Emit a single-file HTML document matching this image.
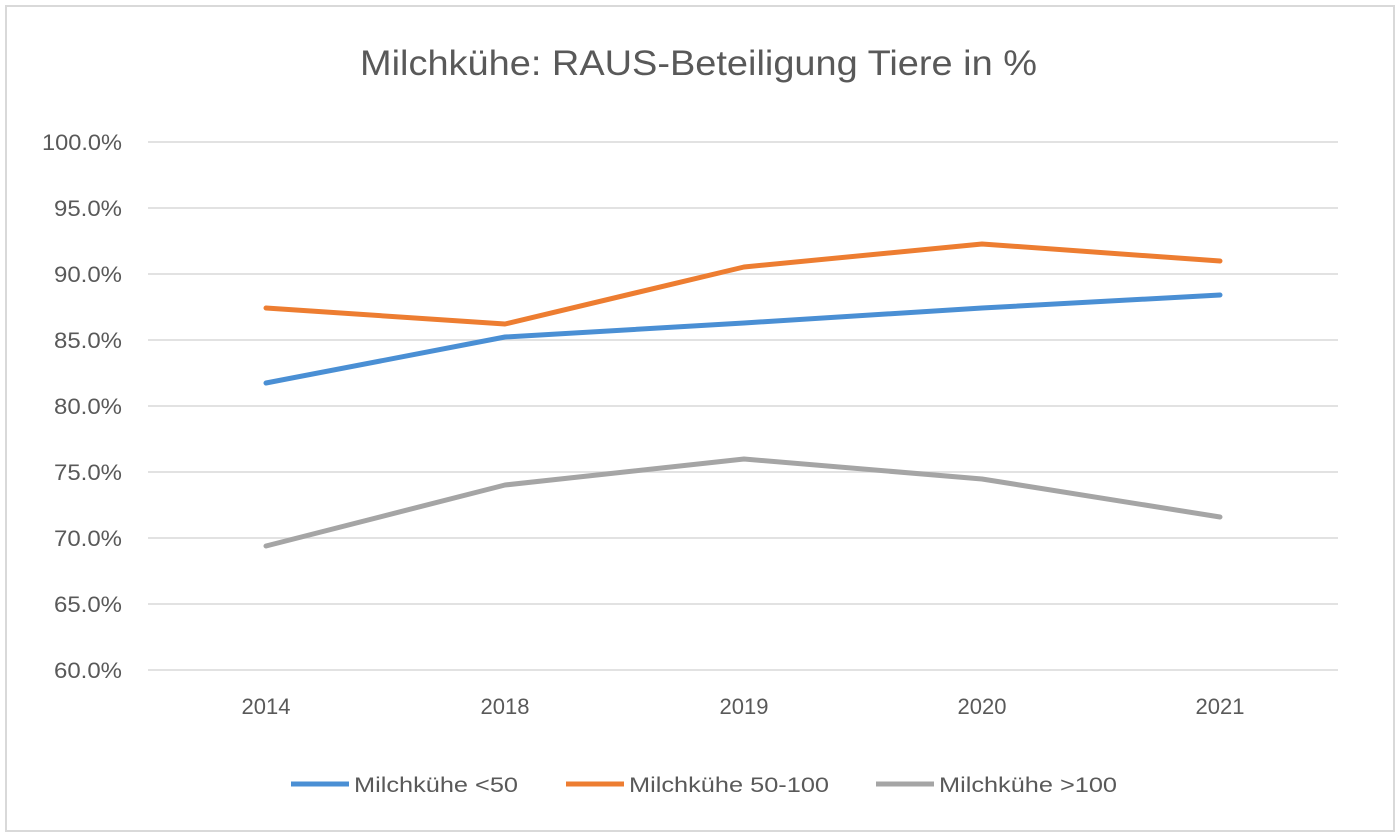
<!DOCTYPE html>
<html><head><meta charset="utf-8"><style>
html,body{margin:0;padding:0;background:#fff;}
svg{display:block;font-family:"Liberation Sans",sans-serif;}
</style></head><body>
<svg width="1400" height="839" viewBox="0 0 1400 839">
<rect x="0" y="0" width="1400" height="839" fill="#fff"/>
<rect x="6" y="6" width="1388" height="825" fill="none" stroke="#d9d9d9" stroke-width="2"/>
<text x="360" y="75" font-size="35" fill="#595959" textLength="677" lengthAdjust="spacingAndGlyphs">Milchkühe: RAUS-Beteiligung Tiere in %</text>
<g stroke="#d9d9d9" stroke-width="1.5">
<line x1="148" x2="1338" y1="142" y2="142"/><line x1="148" x2="1338" y1="208" y2="208"/>
<line x1="148" x2="1338" y1="274" y2="274"/><line x1="148" x2="1338" y1="340" y2="340"/>
<line x1="148" x2="1338" y1="406" y2="406"/><line x1="148" x2="1338" y1="472" y2="472"/>
<line x1="148" x2="1338" y1="538" y2="538"/><line x1="148" x2="1338" y1="604" y2="604"/>
<line x1="148" x2="1338" y1="670" y2="670"/>
</g>
<g font-size="22" fill="#595959">
<text x="42" y="150" textLength="80" lengthAdjust="spacingAndGlyphs">100.0%</text>
<text x="54" y="216" textLength="68" lengthAdjust="spacingAndGlyphs">95.0%</text>
<text x="54" y="282" textLength="68" lengthAdjust="spacingAndGlyphs">90.0%</text>
<text x="54" y="348" textLength="68" lengthAdjust="spacingAndGlyphs">85.0%</text>
<text x="54" y="414" textLength="68" lengthAdjust="spacingAndGlyphs">80.0%</text>
<text x="54" y="480" textLength="68" lengthAdjust="spacingAndGlyphs">75.0%</text>
<text x="54" y="546" textLength="68" lengthAdjust="spacingAndGlyphs">70.0%</text>
<text x="54" y="612" textLength="68" lengthAdjust="spacingAndGlyphs">65.0%</text>
<text x="54" y="678" textLength="68" lengthAdjust="spacingAndGlyphs">60.0%</text>
</g>
<g font-size="22" fill="#595959" text-anchor="middle">
<text x="266" y="714">2014</text><text x="505" y="714">2018</text><text x="744" y="714">2019</text>
<text x="982" y="714">2020</text><text x="1220" y="714">2021</text>
</g>
<g fill="none" stroke-width="5" stroke-linecap="round" stroke-linejoin="round">
<polyline stroke="#a5a5a5" points="266,546 505,485 744,459 982,479 1220,517"/>
<polyline stroke="#ed7d31" points="266,308 505,324 744,267 982,244 1220,261"/>
<polyline stroke="#4a8fd4" points="266,383 505,337 744,323 982,308 1220,295"/>
</g>
<g font-size="21" fill="#595959">
<line x1="291" x2="349" y1="784" y2="784" stroke="#4a8fd4" stroke-width="5"/>
<text x="354" y="792" textLength="164" lengthAdjust="spacingAndGlyphs">Milchkühe &lt;50</text>
<line x1="566" x2="624" y1="784" y2="784" stroke="#ed7d31" stroke-width="5"/>
<text x="629" y="792" textLength="200" lengthAdjust="spacingAndGlyphs">Milchkühe 50-100</text>
<line x1="876" x2="934" y1="784" y2="784" stroke="#a5a5a5" stroke-width="5"/>
<text x="939" y="792" textLength="178" lengthAdjust="spacingAndGlyphs">Milchkühe &gt;100</text>
</g>
</svg>
</body></html>
